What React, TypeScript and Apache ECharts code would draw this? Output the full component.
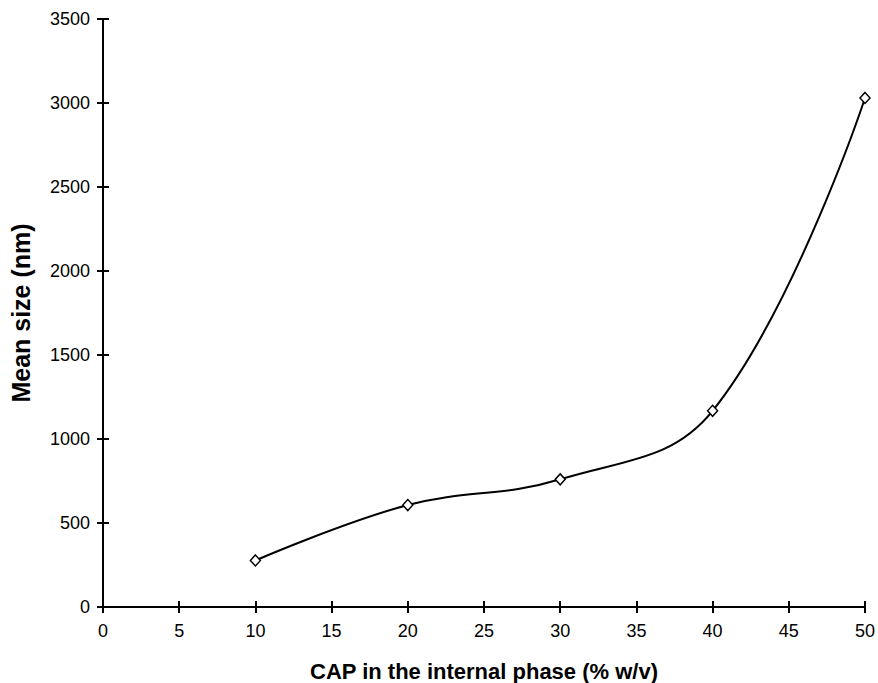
import React, { useEffect, useRef } from "react";
import * as echarts from "echarts";

const xValues = [10, 20, 30, 40, 50];
const meanSize = [277, 607, 760, 1168, 3030];
const xTitle = "CAP in the internal phase (% w/v)";
const yTitle = "Mean size (nm)";

const FONT = "'Liberation Sans', Arial, sans-serif";

export default function App() {
  const ref = useRef<HTMLDivElement>(null);
  useEffect(() => {
    document.body.style.margin = "0";
    const chart = echarts.init(ref.current!, null, { renderer: "svg" });
    const axisCommon = {
      axisLine: { show: true, lineStyle: { color: "#000", width: 2 } },
      splitLine: { show: false },
    };
    const plain = (v: number) => String(v);
    chart.setOption({
      animation: false,
      backgroundColor: "#fff",
      textStyle: { fontFamily: FONT, color: "#000" },
      grid: { left: 103, right: 13, top: 19, bottom: 76, containLabel: false, outerBoundsMode: "none" },
      xAxis: [
        {
          type: "value",
          min: 0,
          max: 50,
          interval: 5,
          ...axisCommon,
          axisTick: { show: true, length: 6, lineStyle: { color: "#000", width: 2 } },
          axisLabel: { fontSize: 18, color: "#000", margin: 15, fontFamily: FONT, formatter: plain },
          name: xTitle,
          nameLocation: "middle",
          nameGap: 53,
          nameTextStyle: { fontSize: 22, fontWeight: "bold", color: "#000", fontFamily: FONT },
        },
        {
          type: "value",
          min: 0,
          max: 50,
          interval: 5,
          position: "bottom",
          axisLine: { show: false },
          splitLine: { show: false },
          axisLabel: { show: false },
          axisTick: { show: true, inside: true, length: 6, lineStyle: { color: "#000", width: 2 } },
        },
      ],
      yAxis: [
        {
          type: "value",
          min: 0,
          max: 3500,
          interval: 500,
          ...axisCommon,
          axisTick: { show: true, length: 6, lineStyle: { color: "#000", width: 2 } },
          axisLabel: { fontSize: 18, color: "#000", margin: 13, fontFamily: FONT, formatter: plain },
          name: yTitle,
          nameLocation: "middle",
          nameRotate: 90,
          nameGap: 70,
          nameTextStyle: { fontSize: 25, fontWeight: "bold", color: "#000", fontFamily: FONT },
        },
        {
          type: "value",
          min: 0,
          max: 3500,
          interval: 500,
          position: "left",
          axisLine: { show: false },
          splitLine: { show: false },
          axisLabel: { show: false },
          axisTick: { show: true, inside: true, length: 6, lineStyle: { color: "#000", width: 2 } },
        },
      ],
      series: [
        {
          type: "line",
          data: xValues.map((x, i) => [x, meanSize[i]]),
          smooth: 0.4,
          symbol: "diamond",
          symbolSize: [10, 11],
          showSymbol: true,
          lineStyle: { color: "#000", width: 2 },
          itemStyle: { color: "#fff", borderColor: "#000", borderWidth: 1.5 },
          z: 5,
        },
      ],
    });
    return () => chart.dispose();
  }, []);
  return <div ref={ref} style={{ width: 878, height: 683 }} />;
}
